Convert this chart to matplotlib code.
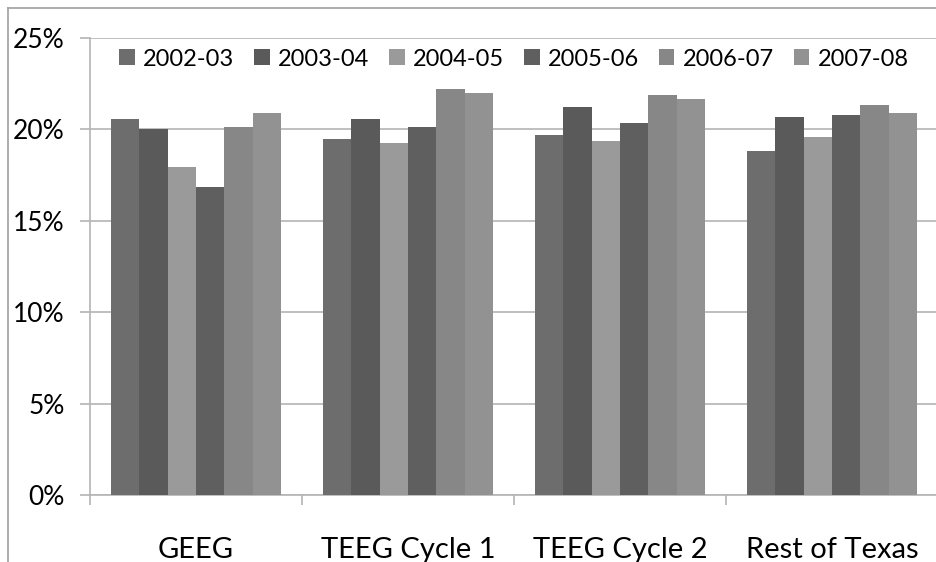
import numpy as np
import matplotlib
matplotlib.use('Agg')
import matplotlib.pyplot as plt
from matplotlib.lines import Line2D
from matplotlib.ticker import FuncFormatter, FixedLocator

plt.rcParams['font.family'] = ['Lato', 'DejaVu Sans']

groups = ['GEEG', 'TEEG Cycle 1', 'TEEG Cycle 2', 'Rest of Texas']
years = ['2002-03', '2003-04', '2004-05', '2005-06', '2006-07', '2007-08']
# percent values per year, one entry per group
v0203 = [20.55, 19.45, 19.67, 18.8]
v0304 = [20.0, 20.55, 21.2, 20.66]
v0405 = [17.93, 19.23, 19.34, 19.56]
v0506 = [16.83, 20.11, 20.33, 20.77]
v0607 = [20.11, 22.19, 21.86, 21.32]
v0708 = [20.88, 21.97, 21.64, 20.88]
series = [v0203, v0304, v0405, v0506, v0607, v0708]
colors = ['#6d6d6d', '#5a5a5a', '#9a9a9a', '#5f5f5f', '#878787', '#929292']

W, H = 936, 562
fig = plt.figure(figsize=(W / 100, H / 100), dpi=100)
ax = fig.add_axes([90 / W, (H - 495) / H, 848 / W, 457 / H])

x = np.arange(len(groups))
bw = 0.8 / 6
for i, (vals, c) in enumerate(zip(series, colors)):
    ax.bar(x - 0.4 + bw * (i + 0.5), vals, width=bw, color=c, label=years[i], zorder=3)

ax.set_xlim(-0.5, len(groups) - 0.5)
ax.set_ylim(0, 25)
ax.set_yticks(np.arange(0, 26, 5))
ax.yaxis.set_major_formatter(FuncFormatter(lambda v, p: f'{v:.0f}%'))
ax.grid(axis='y', color='#b4b4b4', linewidth=1.2, zorder=0)

ax.set_xticks(x)
ax.set_xticklabels(groups)
ax.xaxis.set_minor_locator(FixedLocator(np.arange(-0.5, len(groups), 1)))
ax.tick_params(axis='x', which='major', length=0, pad=30, labelsize=21)
ax.tick_params(axis='x', which='minor', length=7.2, width=1.2, color='#b4b4b4')
ax.tick_params(axis='y', length=7.2, width=1.2, color='#b4b4b4', pad=11, labelsize=19)

for s in ['top', 'right']:
    ax.spines[s].set_visible(False)
for s in ['left', 'bottom']:
    ax.spines[s].set_color('#b4b4b4')
    ax.spines[s].set_linewidth(1.2)

leg = ax.legend(loc='center', bbox_to_anchor=(0.5, 1 - 21 / 457), ncol=6,
                frameon=True, fontsize=17, handlelength=0.65, handleheight=0.65,
                handletextpad=0.35, columnspacing=0.85, borderpad=0.3)
leg.get_frame().set_edgecolor('none')
leg.get_frame().set_facecolor('white')
leg.get_frame().set_alpha(1)
leg.set_zorder(5)

fig.add_artist(Line2D([8 / W, 8 / W], [0, 1 - 8 / H], color='#a0a0a0', linewidth=1.2))
fig.add_artist(Line2D([8 / W, 1], [1 - 8 / H, 1 - 8 / H], color='#a0a0a0', linewidth=1.2))

fig.savefig('out.png', dpi=100)
